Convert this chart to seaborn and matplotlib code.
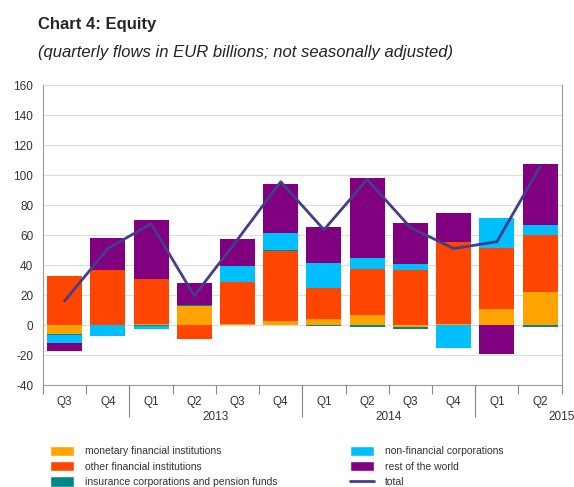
import numpy as np
import pandas as pd
import matplotlib
matplotlib.use("Agg")
import matplotlib.pyplot as plt
import matplotlib.transforms as mtransforms
from matplotlib.patches import Patch
from matplotlib.lines import Line2D
import seaborn as sns

# Data (EUR billions)
quarters = ["Q3", "Q4", "Q1", "Q2", "Q3", "Q4", "Q1", "Q2", "Q3", "Q4", "Q1", "Q2"]
year_labels = ["2013", "2014", "2015"]
monetary = [-6, 0, 0.5, 13, 0.5, 3, 4, 6.5, -1.2, 0.5, 10.5, 22]
other_fin = [33, 37, 30, -9, 28, 46.6, 20.4, 30.6, 36.7, 55, 40.6, 38]
insurance = [-0.7, 0, -0.8, 0.5, 0, 0.3, -0.7, -1.3, -1.6, 0, 0, -1]
non_fin = [-5.6, -7, -2.1, 0, 10.9, 11.7, 16.7, 7.3, 4, -15, 20.5, 6.7]
rest_world = [-4.7, 21, 39.2, 14.6, 17.8, 32.2, 24, 53.8, 27.5, 19.5, -19.5, 40.6]
total = [16, 51, 67.5, 19.5, 57, 95.5, 63.5, 97, 65, 51, 55.5, 105.5]

names = ["monetary financial institutions", "other financial institutions",
         "insurance corporations and pension funds", "non-financial corporations",
         "rest of the world"]
colors = ["#ffa300", "#ff4500", "#00878a", "#00bfff", "#800080"]
line_color = "#453c8c"

sns.set_style("white")
plt.rcParams['font.family'] = ['Liberation Sans', 'DejaVu Sans']
plt.rcParams['axes.unicode_minus'] = False

fig = plt.figure(figsize=(5.74, 4.87), dpi=100)
ax = fig.add_axes([43 / 574, 1 - 385 / 487, (561.7 - 43) / 574, 300 / 487])

df = pd.DataFrame(dict(zip(names, [monetary, other_fin, insurance, non_fin, rest_world])))
pos = df.clip(lower=0).cumsum(axis=1)
neg = df.clip(upper=0).cumsum(axis=1)
x = np.arange(len(quarters))

# stacked bars: draw cumulative layers from the outside in
for name, col in reversed(list(zip(names, colors))):
    for stack in (pos, neg):
        sns.barplot(x=x, y=stack[name].values, color=col, saturation=1,
                    width=0.81, linewidth=0, errorbar=None, ax=ax)

sns.lineplot(x=x, y=total, color=line_color, linewidth=2, ax=ax, zorder=5)

ax.set_xlim(-0.5, 11.5)
ax.set_ylim(-40, 160)
ax.set_yticks(range(-40, 161, 20))
ax.set_axisbelow(True)
ax.yaxis.grid(True, color="#dddddd", linewidth=0.8)
ax.set_xticks(x)
ax.set_xticklabels(quarters)
ax.set_xticks(np.arange(-0.5, 12, 1), minor=True)
ax.tick_params(axis="x", which="major", length=0, pad=8, labelsize=8.5, labelcolor="#333333")
ax.tick_params(axis="x", which="minor", length=6.5, width=0.8, color="#888888", bottom=True)
ax.tick_params(axis="y", length=0, pad=7, labelsize=8.5, labelcolor="#333333")
ax.set_xlabel("")
ax.set_ylabel("")
ax.spines["top"].set_visible(False)
for s in ["left", "right", "bottom"]:
    ax.spines[s].set_color("#999999")
    ax.spines[s].set_linewidth(0.8)

# year separators and labels
trans = mtransforms.blended_transform_factory(ax.transData, ax.transAxes)
ax.vlines([1.5, 5.5, 9.5], -32 / 300, 0, transform=trans, color="#888888",
          linewidth=0.8, clip_on=False)
for xp, yl in zip([3.5, 7.5, 11.5], year_labels):
    ax.text(xp, -32 / 300, yl, transform=trans, ha="center", va="center",
            fontsize=8.5, color="#333333")

fig.text(38 / 574, 1 - 24 / 487, "Chart 4: Equity", fontsize=12,
         fontweight="bold", va="center", ha="left")
fig.text(38 / 574, 1 - 52 / 487,
         "(quarterly flows in EUR billions; not seasonally adjusted)",
         fontsize=12, style="italic", va="center", ha="left", color="#222222")

h1 = [Patch(facecolor=c, label=n) for c, n in zip(colors[:3], names[:3])]
h2 = [Patch(facecolor=c, label=n) for c, n in zip(colors[3:], names[3:])]
h2.append(Line2D([0], [0], color=line_color, linewidth=2, label="total"))
leg_kw = dict(loc="upper left", frameon=False, fontsize=7.5, borderpad=0,
              borderaxespad=0, handlelength=2.3, handleheight=1.15,
              handletextpad=1.05, labelspacing=0.45, labelcolor="#333333")
fig.legend(handles=h1, bbox_to_anchor=(50 / 574, 1 - 445.5 / 487), **leg_kw)
fig.legend(handles=h2, bbox_to_anchor=(350 / 574, 1 - 445.5 / 487), **leg_kw)

fig.savefig("out.png", dpi=100)
